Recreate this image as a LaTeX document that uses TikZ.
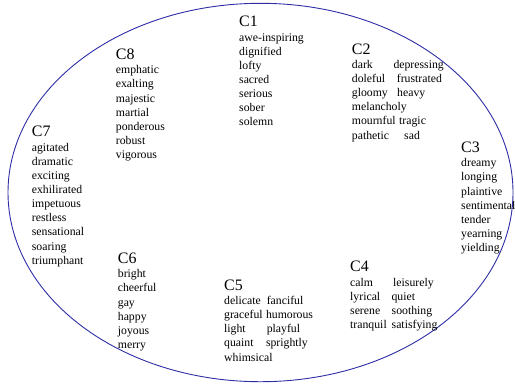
\documentclass[tikz,border=0pt]{standalone}
\usepackage{fontspec}
\setmainfont{Liberation Serif}
\usetikzlibrary{positioning}

\definecolor{rimblue}{RGB}{45,45,165}
% second word of a line at a fixed offset
\newcommand{\wpair}[3]{\makebox[#1bp][l]{#2}#3}

\begin{document}
\begin{tikzpicture}[x=1bp, y=-1bp,
    head/.style={anchor=base west, inner sep=0pt, font=\fontsize{16}{16}\selectfont},
    words/.style={align=left, inner sep=0pt, font=\fontsize{11.8}{14.2}\selectfont},
    rim/.style={draw=rimblue, line width=0.9bp}
]
\useasboundingbox (0,0) rectangle (515,385);
\draw[rim] (260.5,192.5) ellipse [x radius=252.5, y radius=189.2];

\node[head] (c1) at (239,26.7) {C1};
\node[words, below right=4.3bp and 0bp of c1.base west] (c1w) {\strut awe-inspiring\\dignified\\lofty\\sacred\\serious\\sober\\solemn};

\node[head] (c2) at (351.7,54) {C2};
\node[words, below right=4.3bp and 0bp of c2.base west] (c2w) {\strut\wpair{41.6}{dark}{depressing}\\\wpair{45}{doleful}{frustrated}\\\wpair{45.3}{gloomy}{heavy}\\melancholy\\\wpair{47.3}{mournful}{tragic}\\\wpair{52.3}{pathetic}{sad}};

\node[head] (c3) at (461,152.3) {C3};
\node[words, below right=4.3bp and 0bp of c3.base west] (c3w) {\strut dreamy\\longing\\plaintive\\sentimental\\tender\\yearning\\yielding};

\node[head] (c4) at (350,271.7) {C4};
\node[words, below right=4.3bp and 0bp of c4.base west] (c4w) {\strut\wpair{43}{calm}{leisurely}\\\wpair{41.3}{lyrical}{quiet}\\\wpair{41.5}{serene}{soothing}\\\wpair{41.5}{tranquil}{satisfying}};

\node[head] (c5) at (224,290) {C5};
\node[words, below right=4.3bp and 0bp of c5.base west] (c5w) {\strut\wpair{42.6}{delicate}{fanciful}\\\wpair{41.8}{graceful}{humorous}\\\wpair{42.6}{light}{playful}\\\wpair{41.8}{quaint}{sprightly}\\whimsical};

\node[head] (c6) at (117.7,263.3) {C6};
\node[words, below right=4.3bp and 0bp of c6.base west] (c6w) {\strut bright\\cheerful\\gay\\happy\\joyous\\merry};

\node[head] (c7) at (31.7,136.7) {C7};
\node[words, below right=4.3bp and 0bp of c7.base west] (c7w) {\strut agitated\\dramatic\\exciting\\exhilirated\\impetuous\\restless\\sensational\\soaring\\triumphant};

\node[head] (c8) at (115.7,59.3) {C8};
\node[words, below right=4.3bp and 0bp of c8.base west] (c8w) {\strut emphatic\\exalting\\majestic\\martial\\ponderous\\robust\\vigorous};
\end{tikzpicture}
\end{document}
